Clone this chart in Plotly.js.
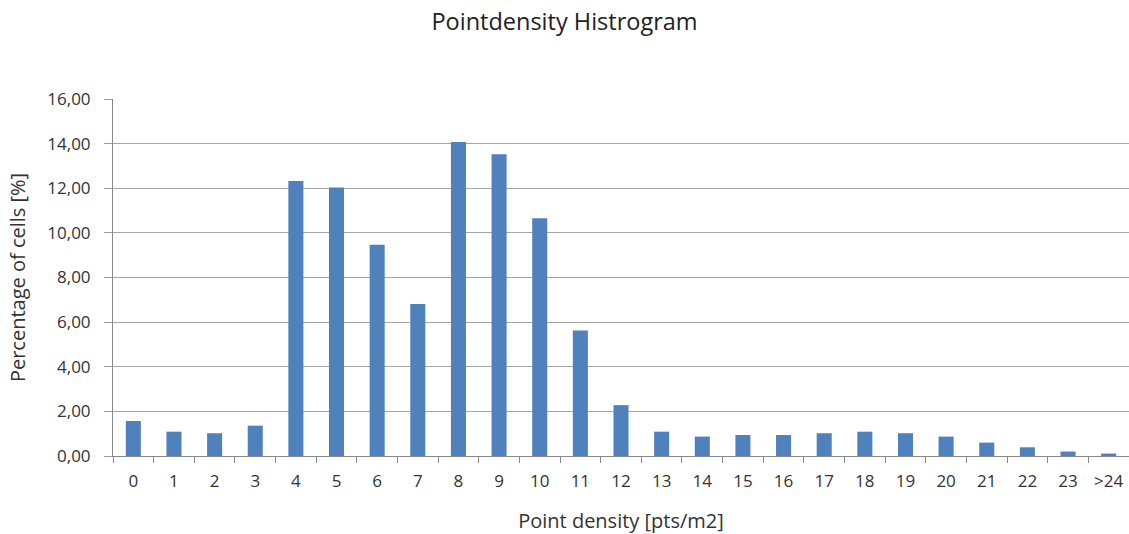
<!DOCTYPE html>
<html>
<head>
<meta charset="utf-8">
<script src="https://cdn.plot.ly/plotly-3.0.1.min.js"></script>
<style>html,body{margin:0;padding:0;background:#fff}#chart{width:1129px;height:534px}</style>
</head>
<body>
<div id="chart"></div>
<script>
const categories = ["0","1","2","3","4","5","6","7","8","9","10","11","12","13","14","15","16","17","18","19","20","21","22","23",">24"];
const percentages = [1.57,1.09,1.02,1.36,12.33,12.03,9.47,6.81,14.07,13.52,10.66,5.63,2.28,1.09,0.87,0.94,0.94,1.02,1.09,1.02,0.87,0.60,0.39,0.20,0.11];
const chartTitle = "Pointdensity Histrogram";
const xTitle = "Point density [pts/m2]";
const yTitle = "Percentage of cells [%]";

const font = "Open Sans, Liberation Sans, sans-serif";
Plotly.newPlot("chart", [{
  type: "bar",
  x: categories,
  y: percentages,
  marker: {color: "#4f81bd"},
  hoverinfo: "x+y"
}], {
  width: 1129, height: 534,
  margin: {l: 113, r: 0, t: 99, b: 78},
  paper_bgcolor: "#fff", plot_bgcolor: "#fff",
  separators: ",.",
  bargap: 0.63,
  showlegend: false,
  font: {family: font, color: "#333", size: 17},
  title: {text: chartTitle, font: {family: font, size: 23.5, color: "#222"}, x: 0.5, xanchor: "center", y: 0.96, yref: "container", yanchor: "middle"},
  xaxis: {
    type: "category",
    tickson: "boundaries",
    ticks: "outside", ticklen: 6, tickcolor: "#888",
    ticklabelstandoff: 10,
    showline: true, linecolor: "#888", linewidth: 1,
    showgrid: false,
    tickfont: {family: font, size: 17, color: "#333"},
    title: {text: xTitle, font: {family: font, size: 20, color: "#333"}, standoff: 22},
    automargin: false
  },
  yaxis: {
    range: [0, 16], dtick: 2, tick0: 0,
    tickformat: ".2f",
    ticks: "outside", ticklen: 8, tickcolor: "#999",
    ticklabelstandoff: 10,
    showline: true, linecolor: "#888", linewidth: 1,
    showgrid: true, gridcolor: "#a6a6a6", gridwidth: 1,
    zeroline: false,
    tickfont: {family: font, size: 17, color: "#333"},
    title: {text: yTitle, font: {family: font, size: 20, color: "#333"}, standoff: 16},
    automargin: false
  }
}, {displayModeBar: false, staticPlot: true});
</script>
</body>
</html>
